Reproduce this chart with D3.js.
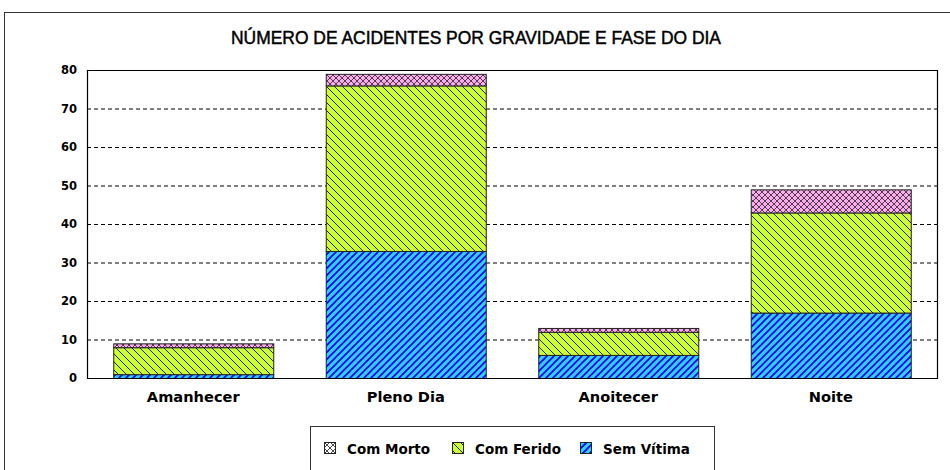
<!DOCTYPE html>
<html><head><meta charset="utf-8">
<script src="https://cdn.jsdelivr.net/npm/d3@7"></script>
<style>body{margin:0;background:#fff}svg{display:block}</style>
</head><body>
<svg id="c" width="950" height="470"></svg>
<script>
const categories = ["Amanhecer", "Pleno Dia", "Anoitecer", "Noite"];
const semVitima = [1, 33, 6, 17];
const comFerido = [7, 43, 6, 26];
const comMorto = [1, 3, 1, 6];
const seriesNames = ["Sem Vítima", "Com Ferido", "Com Morto"];
const legendOrder = ["Com Morto", "Com Ferido", "Sem Vítima"];
const yTicks = [0, 10, 20, 30, 40, 50, 60, 70, 80];
const title = "NÚMERO DE ACIDENTES POR GRAVIDADE E FASE DO DIA";

(function(){
const svg = d3.select("#c");
const defs = svg.append("defs");

const pSem = defs.append("pattern").attr("id","pSem").attr("patternUnits","userSpaceOnUse")
  .attr("width",7).attr("height",7);
pSem.append("rect").attr("width",7).attr("height",7).attr("fill","#33ccff");
pSem.append("path").attr("d","M-2,2 L2,-2 M0,7 L7,0 M5,9 L9,5").attr("stroke","#0000ee").attr("stroke-width",1.6);

const pFer = defs.append("pattern").attr("id","pFer").attr("patternUnits","userSpaceOnUse")
  .attr("width",8).attr("height",8);
pFer.append("rect").attr("width",8).attr("height",8).attr("fill","#ccff33");
pFer.append("path").attr("d","M-2,6 L2,10 M0,0 L8,8 M6,-2 L10,2").attr("stroke","#222").attr("stroke-width",1);

const pMor = defs.append("pattern").attr("id","pMor").attr("patternUnits","userSpaceOnUse")
  .attr("width",6).attr("height",6);
pMor.append("rect").attr("width",6).attr("height",6).attr("fill","#ffaaee");
pMor.append("path").attr("d","M0,0 L6,6 M6,0 L0,6").attr("stroke","#333").attr("stroke-width",0.9);

const pMorL = defs.append("pattern").attr("id","pMorL").attr("patternUnits","userSpaceOnUse")
  .attr("width",6).attr("height",6);
pMorL.append("rect").attr("width",6).attr("height",6).attr("fill","#fff");
pMorL.append("path").attr("d","M0,0 L6,6 M6,0 L0,6").attr("stroke","#333").attr("stroke-width",0.9);

const fills = {"Sem Vítima":"url(#pSem)","Com Ferido":"url(#pFer)","Com Morto":"url(#pMor)"};
const legendFills = {"Sem Vítima":"url(#pSem)","Com Ferido":"url(#pFer)","Com Morto":"url(#pMorL)"};

svg.append("rect").attr("x",4.5).attr("y",12.5).attr("width",1000).attr("height",500)
  .attr("fill","none").attr("stroke","#333").attr("stroke-width",1);

svg.append("text").attr("x",476).attr("y",44).attr("text-anchor","middle")
  .attr("font-family","'Liberation Sans', Arial, sans-serif")
  .attr("font-size",17.5).attr("fill","#000").attr("stroke","#000").attr("stroke-width",0.45)
  .attr("textLength",490).attr("lengthAdjust","spacingAndGlyphs").text(title);

const pl = 87, pr = 937, pt = 70, pb = 378;
const x = d3.scaleBand().domain(categories).range([pl, pr]).paddingInner(0.247).paddingOuter(0.1235);
const y = d3.scaleLinear().domain([0, 80]).range([pb, pt]);

svg.append("g").selectAll("line").data(yTicks.filter(v => v > 0 && v < 80)).join("line")
  .attr("x1", pl).attr("x2", pr).attr("y1", d => y(d)+0.5).attr("y2", d => y(d)+0.5)
  .attr("stroke","#000").attr("stroke-dasharray","4,3").attr("stroke-width",1);

const table = categories.map((c,i) => ({cat:c, "Sem Vítima":semVitima[i], "Com Ferido":comFerido[i], "Com Morto":comMorto[i]}));
const stack = d3.stack().keys(seriesNames)(table);

svg.append("g").selectAll("g").data(stack).join("g")
  .attr("fill", d => fills[d.key])
  .selectAll("rect").data(d => d).join("rect")
  .attr("x", d => x(d.data.cat)+0.5).attr("width", x.bandwidth())
  .attr("y", d => y(d[1])+0.5).attr("height", d => y(d[0]) - y(d[1]))
  .attr("stroke","#222").attr("stroke-width",1);

svg.append("path").attr("d",`M${pl+0.5},${pb+0.5} L${pl+0.5},${pt+0.5} L${pr+0.5},${pt+0.5} L${pr+0.5},${pb+0.5} Z`)
  .attr("fill","none").attr("stroke","#000").attr("stroke-width",1.2);

const yAxis = d3.axisLeft(y).tickValues(yTicks).tickSize(0).tickPadding(10);
const gy = svg.append("g").attr("transform",`translate(${pl},0)`).call(yAxis);
gy.select(".domain").remove();
gy.selectAll("text").attr("font-family","'DejaVu Sans', Verdana, sans-serif")
  .attr("font-weight","bold").attr("font-size",11.5).attr("fill","#000");

const xAxis = d3.axisBottom(x).tickSize(0).tickPadding(14);
const gx = svg.append("g").attr("transform",`translate(0,${pb})`).call(xAxis);
gx.select(".domain").remove();
gx.selectAll("text").attr("font-family","'DejaVu Sans', Verdana, sans-serif")
  .attr("font-weight","bold").attr("font-size",14.6).attr("fill","#000");

svg.append("rect").attr("x",310.5).attr("y",426.5).attr("width",404).attr("height",60)
  .attr("fill","#fff").attr("stroke","#333").attr("stroke-width",1);
const legX = [324, 452, 580];
const lg = svg.append("g").selectAll("g").data(legendOrder).join("g")
  .attr("transform",(d,i)=>`translate(${legX[i]},442)`);
lg.append("rect").attr("x",0.5).attr("y",0.5).attr("width",11).attr("height",11)
  .attr("fill", d => legendFills[d]).attr("stroke","#222");
lg.append("text").attr("x",23).attr("y",11.5).attr("font-family","'DejaVu Sans', Verdana, sans-serif")
  .attr("font-weight","bold").attr("font-size",13.5).attr("fill","#000").text(d => d);
})();
</script>
</body></html>
